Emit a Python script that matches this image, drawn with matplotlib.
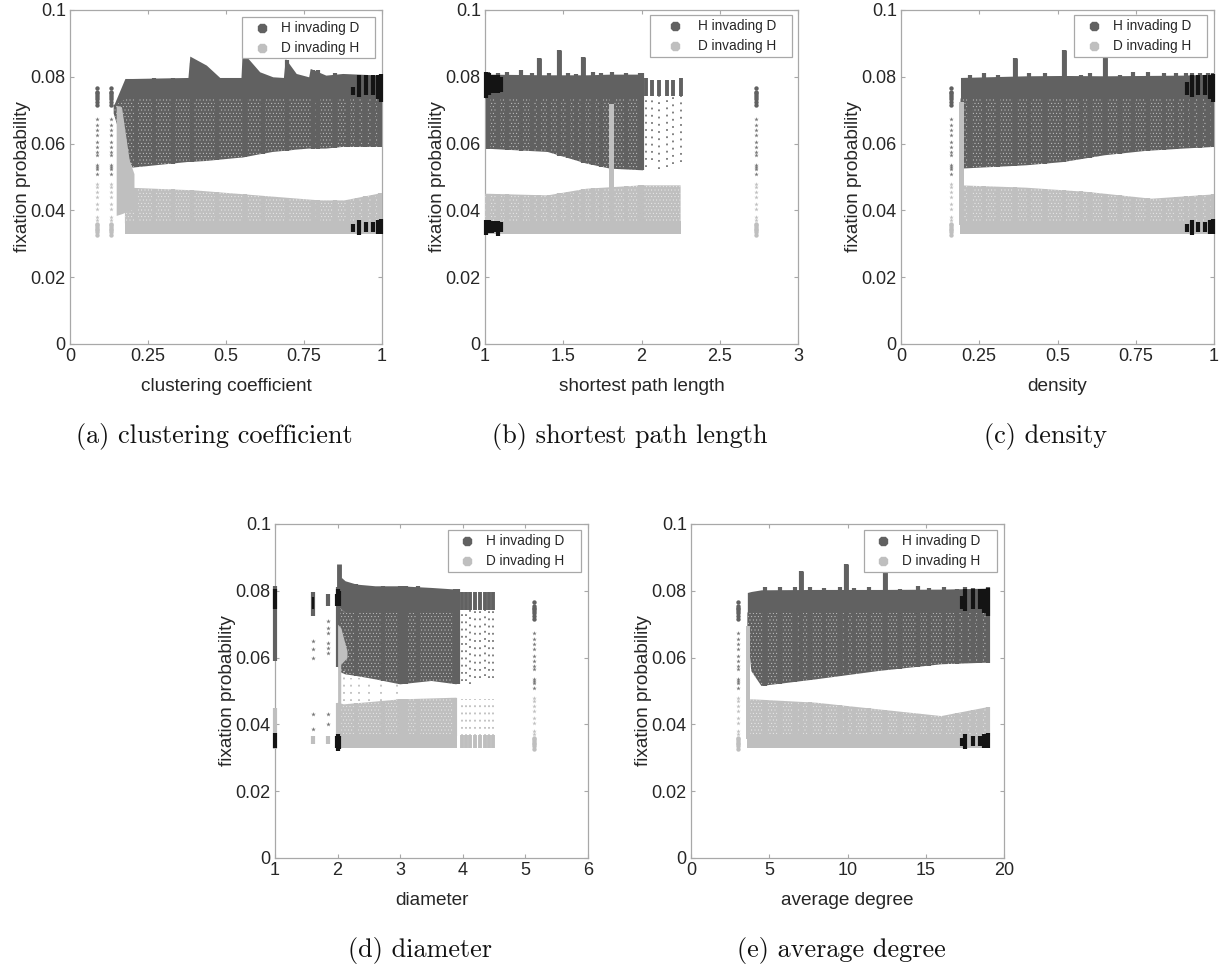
import matplotlib
matplotlib.use('Agg')
from matplotlib import pyplot as plt
from matplotlib.patches import Rectangle
import numpy as np

plt.rcParams['font.family'] = ['Liberation Sans', 'DejaVu Sans']
plt.rcParams['hatch.linewidth'] = 0.25

H_COL = '#616161'
D_COL = '#bfbfbf'
EDGE = '#a8a8a8'
TXT = '#262626'
BLACK = '#141414'

y_ticks = [0, 0.02, 0.04, 0.06, 0.08, 0.1]
y_tick_labels = ['0', '0.02', '0.04', '0.06', '0.08', '0.1']

# the lone column of points that shows up in every panel
iso_h_dense = [0.0715, 0.0725, 0.0735, 0.074, 0.0745, 0.075, 0.0755, 0.0765]
iso_h_sparse = [0.0675, 0.0655, 0.064, 0.0625, 0.0605, 0.059, 0.0575, 0.0565, 0.0535, 0.053, 0.0525, 0.051]
iso_d_sparse = [0.048, 0.047, 0.0455, 0.044, 0.042, 0.0405, 0.038, 0.037]
iso_d_dense = [0.0325, 0.0335, 0.034, 0.0345, 0.035, 0.0355, 0.036]

# (a) clustering coefficient
a_x = [0.14, 0.176, 0.2, 0.378, 0.384, 0.437, 0.48, 0.548, 0.552, 0.608, 0.65, 0.684, 0.69, 0.725, 0.765, 0.77, 0.82, 0.874, 1.0]
a_h_top = [0.0715, 0.0795, 0.0795, 0.0798, 0.0862, 0.0835, 0.0798, 0.0798, 0.0875, 0.0815, 0.08, 0.0798, 0.0855, 0.081, 0.08, 0.0825, 0.0805, 0.081, 0.0805]
a_h_bot = [0.069, 0.058, 0.0528, 0.0545, 0.0545, 0.0548, 0.0552, 0.0558, 0.0558, 0.0568, 0.0575, 0.0578, 0.0578, 0.0582, 0.0585, 0.0585, 0.0585, 0.059, 0.059]
a_band = [0.0715] + [0.0735] * 18
a_dx = [0.176, 0.19, 0.4, 0.6, 0.8, 0.88, 1.0]
a_d_top = [0.047, 0.0468, 0.046, 0.0445, 0.043, 0.043, 0.0452]
a_strands = [0.21, 0.27, 0.33, 0.39, 0.47, 0.56, 0.62, 0.695, 0.78, 0.795, 0.85, 0.89, 0.92, 0.945, 0.97, 0.995]
a_strand_top = [0.079, 0.0795, 0.0795, 0.084, 0.0795, 0.086, 0.08, 0.085, 0.082, 0.082, 0.081, 0.08, 0.08, 0.08, 0.08, 0.08]
a_iso = [0.087, 0.131]
a_col_x = [0.148, 0.165, 0.19, 0.205]
a_col_top = [0.0715, 0.071, 0.055, 0.051]
a_col_bot = [0.0385, 0.039, 0.04, 0.0405]
a_black = [0.906, 0.927, 0.949, 0.97, 0.988, 0.998]
a_black_h_lo = [0.0745, 0.074, 0.0745, 0.0745, 0.0735, 0.0725]
a_black_h_hi = [0.077, 0.0805, 0.0805, 0.0805, 0.0805, 0.0808]
a_black_d_lo = [0.0335, 0.0325, 0.0335, 0.0335, 0.033, 0.033]
a_black_d_hi = [0.036, 0.037, 0.0365, 0.0365, 0.037, 0.0375]

# (b) shortest path length
b_x = [1.0, 1.4, 1.65, 1.8, 2.01]
b_h_top = [0.0808, 0.0806, 0.0806, 0.0808, 0.0808]
b_h_bot = [0.0585, 0.0575, 0.054, 0.0525, 0.052]
b_band = [0.0735] * 5
b_dx = [1.0, 1.4, 1.65, 2.0, 2.25]
b_d_top = [0.045, 0.0445, 0.0465, 0.0475, 0.0475]
b_strands = [1.02, 1.08, 1.14, 1.23, 1.3, 1.343, 1.41, 1.476, 1.53, 1.58, 1.629, 1.69, 1.74, 1.81, 1.9, 1.99, 2.005]
b_strand_top = [0.0815, 0.081, 0.0815, 0.082, 0.081, 0.0855, 0.081, 0.088, 0.081, 0.0808, 0.086, 0.0815, 0.081, 0.0815, 0.081, 0.081, 0.081]
b_spikes = [1.343, 1.476, 1.629]
b_spike_top = [0.0855, 0.088, 0.086]
b_iso = [2.733]
b_col_x = [1.795, 1.825]
b_col_top = [0.072, 0.072]
b_col_bot = [0.0375, 0.0375]
b_black = [1.008, 1.025, 1.045, 1.065, 1.085, 1.1]
b_black_h_lo = [0.0737, 0.0745, 0.075, 0.075, 0.0752, 0.0755]
b_black_h_hi = [0.0815, 0.081, 0.0805, 0.0805, 0.0805, 0.08]
b_black_d_lo = [0.0325, 0.0332, 0.0332, 0.0335, 0.0322, 0.0335]
b_black_d_hi = [0.0372, 0.037, 0.0368, 0.0368, 0.0368, 0.0365]
b_sparse = [2.03, 2.07, 2.11, 2.16, 2.2, 2.25]
b_sparse_top = [0.0795, 0.079, 0.079, 0.079, 0.079, 0.0795]
b_sparse_bot = [0.053, 0.055, 0.0525, 0.053, 0.054, 0.0545]

# (c) density
c_x = [0.19, 0.4, 0.52, 0.65, 0.78, 0.9, 1.0]
c_h_top = [0.0798, 0.0803, 0.0804, 0.0803, 0.0804, 0.0805, 0.0808]
c_h_bot = [0.0525, 0.0535, 0.0545, 0.0565, 0.0578, 0.0585, 0.059]
c_band = [0.0735] * 7
c_dx = [0.19, 0.4, 0.6, 0.8, 1.0]
c_d_top = [0.0475, 0.0468, 0.0455, 0.0435, 0.0448]
c_strands = [0.22, 0.265, 0.31, 0.365, 0.41, 0.46, 0.52, 0.575, 0.605, 0.652, 0.7, 0.74, 0.79, 0.84, 0.88, 0.91, 0.93, 0.955, 0.98, 0.998]
c_strand_top = [0.0805, 0.081, 0.0805, 0.0855, 0.081, 0.081, 0.088, 0.0805, 0.081, 0.086, 0.0805, 0.0815, 0.0815, 0.081, 0.081, 0.081, 0.081, 0.081, 0.081, 0.081]
c_spikes = [0.365, 0.52, 0.652]
c_spike_top = [0.0855, 0.088, 0.086]
c_iso = [0.16]
c_col_x = [0.185, 0.2]
c_col_top = [0.0725, 0.0725]
c_col_bot = [0.0355, 0.0355]
c_black = [0.915, 0.93, 0.95, 0.97, 0.988, 0.998]
c_black_h_lo = [0.0745, 0.074, 0.0745, 0.0745, 0.0735, 0.0725]
c_black_h_hi = [0.0785, 0.0805, 0.0805, 0.0805, 0.0805, 0.0808]
c_black_d_lo = [0.0335, 0.0325, 0.0335, 0.0335, 0.033, 0.033]
c_black_d_hi = [0.036, 0.037, 0.0365, 0.0365, 0.037, 0.0375]

# (d) diameter
d_x = [2.0, 2.06, 2.12, 2.3, 2.6, 3.0, 3.5, 3.9]
d_h_top = [0.0805, 0.084, 0.083, 0.082, 0.0815, 0.0815, 0.081, 0.0805]
d_h_bot = [0.0575, 0.0555, 0.055, 0.0545, 0.0535, 0.052, 0.053, 0.052]
d_band = [0.0755, 0.0745, 0.0735, 0.0735, 0.0735, 0.0735, 0.0735, 0.0735]
d_dx = [2.0, 2.1, 3.0, 3.9]
d_d_top = [0.0465, 0.046, 0.0475, 0.048]
d_strands = [2.01, 2.3, 2.72, 3.0, 3.05, 3.1, 3.29, 3.88, 3.92]
d_strand_top = [0.081, 0.082, 0.0815, 0.0815, 0.0815, 0.0815, 0.0815, 0.0805, 0.0805]
d_spikes = [2.015]
d_spike_top = [0.088]
d_iso = [5.14]
d_col_x = [2.0, 2.05, 2.05, 2.15]
d_col_top = [0.07, 0.069, 0.069, 0.062]
d_col_bot = [0.034, 0.034, 0.058, 0.06]
d_black = [1.985, 2.0, 2.015]
d_black_h_lo = [0.0755, 0.0755, 0.0755]
d_black_h_hi = [0.079, 0.0805, 0.08]
d_black_d_lo = [0.033, 0.032, 0.0325]
d_black_d_hi = [0.0365, 0.037, 0.0365]
d_sparse = [3.98, 4.05, 4.12, 4.2, 4.28, 4.36, 4.42, 4.48]
d_sparse_top = [0.0795, 0.0795, 0.0795, 0.0795, 0.0795, 0.0795, 0.0795, 0.0795]
d_sparse_bot = [0.053, 0.053, 0.052, 0.054, 0.054, 0.0545, 0.054, 0.054]
d_gap_x = [2.1, 2.22, 2.34, 2.5, 2.7, 2.95]
d_gap_top = [0.056, 0.054, 0.054, 0.052, 0.053, 0.052]
d_left_x = [1.0, 1.6, 1.85]
d_left_h_top = [0.0815, 0.0795, 0.079]
d_left_h_bot = [0.059, 0.0725, 0.0755]
d_left_d_top = [0.045, 0.0365, 0.0365]
d_left_d_bot = [0.0325, 0.034, 0.034]
d_left_sparse_x = [1.6, 1.6, 1.6, 1.6, 1.6, 1.85, 1.85, 1.85, 1.85, 1.85, 1.85, 1.85, 1.85]
d_left_sparse_y = [0.065, 0.0625, 0.06, 0.0432, 0.0385, 0.071, 0.069, 0.0675, 0.0645, 0.063, 0.0615, 0.043, 0.04]

# (e) average degree
e_x = [3.6, 3.85, 4.5, 8, 12, 16, 19]
e_h_top = [0.0795, 0.0798, 0.0803, 0.0804, 0.0804, 0.0805, 0.0808]
e_h_bot = [0.069, 0.056, 0.0515, 0.0535, 0.056, 0.058, 0.0585]
e_band = [0.0735] * 7
e_dx = [3.6, 4.0, 8, 12, 16, 19]
e_d_top = [0.0475, 0.0475, 0.0465, 0.0445, 0.0425, 0.0452]
e_strands = [4.73, 5.68, 6.64, 7.0, 7.6, 8.49, 9.51, 9.9, 10.4, 11.4, 12.4, 13.34, 14.5, 15.2, 16.15, 17.0, 17.5, 18.0, 18.45, 18.98]
e_strand_top = [0.081, 0.0812, 0.0812, 0.0858, 0.0812, 0.0808, 0.0812, 0.088, 0.0808, 0.081, 0.086, 0.0805, 0.0815, 0.0808, 0.0812, 0.0805, 0.081, 0.0808, 0.0805, 0.0812]
e_spikes = [7.0, 9.9, 12.4]
e_spike_top = [0.0858, 0.088, 0.086]
e_iso = [3.02]
e_col_x = [3.5, 3.75]
e_col_top = [0.0695, 0.0695]
e_col_bot = [0.0355, 0.0355]
e_black = [17.3, 17.5, 18.0, 18.45, 18.75, 18.98]
e_black_h_lo = [0.0745, 0.074, 0.0745, 0.0745, 0.0735, 0.0725]
e_black_h_hi = [0.0785, 0.0805, 0.0805, 0.0805, 0.0805, 0.0808]
e_black_d_lo = [0.0335, 0.0325, 0.0335, 0.0335, 0.033, 0.033]
e_black_d_hi = [0.036, 0.037, 0.0365, 0.0365, 0.037, 0.0375]


def to_ax(fig, l, t, r, b):
    W, H = fig.get_size_inches() * fig.dpi
    return fig.add_axes([l / W, 1 - b / H, (r - l) / W, (b - t) / H])


def draw_panel(ax, x, h_top, h_bot, band, dx, d_top, strands, strand_top, iso, col_x, col_top, col_bot, black, bh_lo, bh_hi, bd_lo, bd_hi):
    # speckled part = solid with a fine dot screen on it
    ax.fill_between(x, h_bot, band, facecolor=H_COL, edgecolor='#d8d8d8', hatch='.....', lw=0, zorder=2)
    ax.fill_between(x, band, h_top, color=H_COL, lw=0, zorder=3)
    ax.vlines(strands, np.interp(strands, x, h_bot), strand_top, color=H_COL, lw=3.0, zorder=3)
    ax.fill_between(dx, 0.0362, d_top, facecolor=D_COL, edgecolor='#f2f2f2', hatch='.....', lw=0, zorder=4)
    ax.fill_between([dx[0], dx[-1]], 0.033, 0.0368, color=D_COL, lw=0, zorder=4)
    ds = [s for s in strands if dx[0] <= s <= dx[-1]]
    ax.vlines(ds, 0.0365, np.interp(ds, dx, d_top), color=D_COL, lw=3.0, zorder=4)
    ax.fill_between(col_x, col_bot, col_top, color=D_COL, lw=0, zorder=5)
    for v in iso:
        ax.scatter([v] * len(iso_h_dense), iso_h_dense, marker='o', s=10, color=H_COL, lw=0, zorder=6)
        ax.scatter([v] * len(iso_h_sparse), iso_h_sparse, marker='*', s=11, color='#777777', lw=0, zorder=6)
        ax.scatter([v] * len(iso_d_sparse), iso_d_sparse, marker='*', s=11, color=D_COL, lw=0, zorder=6)
        ax.scatter([v] * len(iso_d_dense), iso_d_dense, marker='o', s=10, color=D_COL, lw=0, zorder=6)
    ax.vlines(black, bh_lo, bh_hi, color=BLACK, lw=3.0, zorder=7, clip_on=False)
    ax.vlines(black, bd_lo, bd_hi, color=BLACK, lw=3.0, zorder=7, clip_on=False)


def finish(ax, xlim, xticks, xlabels, xlabel, leg, box):
    l, t, r, b = box
    ax.set_xlim(xlim)
    ax.set_ylim(0, 0.1)
    ax.set_xticks(xticks)
    ax.set_xticklabels(xlabels)
    ax.set_yticks(y_ticks)
    ax.set_yticklabels(y_tick_labels)
    ax.tick_params(direction='in', length=3, width=0.8, top=True, right=True, color=EDGE, labelcolor=TXT, labelsize=13, pad=3)
    for sp in ax.spines.values():
        sp.set_color(EDGE)
        sp.set_linewidth(0.9)
    ax.set_xlabel(xlabel, fontsize=13.7, color=TXT, labelpad=9.5)
    ax.set_ylabel('fixation probability', fontsize=13.7, color=TXT, labelpad=0)
    # legend box laid out by hand in pixels, the stock one can't get these paddings
    lx0, ly0, lx1, ly1, mk, tx = leg
    fx = lambda p: (p - l) / (r - l)
    fy = lambda p: (b - p) / (b - t)
    ax.add_patch(Rectangle((fx(lx0), fy(ly1)), fx(lx1) - fx(lx0), fy(ly0) - fy(ly1), transform=ax.transAxes,
                           facecolor='white', edgecolor=EDGE, lw=0.9, zorder=20))
    rows = [(ly0 + 11, H_COL, 'H invading D'), (ly0 + 31, D_COL, 'D invading H')]
    for py, col, lab in rows:
        ax.plot([fx(mk)], [fy(py)], marker='8', ms=7, color=col, ls='', transform=ax.transAxes, zorder=21)
        ax.text(fx(tx), fy(py), lab, transform=ax.transAxes, fontsize=9.8, color=TXT, va='center', ha='left', zorder=21)


fig = plt.figure(figsize=(12.2, 9.68), dpi=100)

box_a = (70, 10, 382, 344)
box_b = (485, 10, 798, 344)
box_c = (901, 10, 1214, 344)
box_d = (275, 524, 588, 858)
box_e = (691, 524, 1004, 858)

ax = to_ax(fig, *box_a)
draw_panel(ax, a_x, a_h_top, a_h_bot, a_band, a_dx, a_d_top, a_strands, a_strand_top, a_iso, a_col_x, a_col_top, a_col_bot, a_black, a_black_h_lo, a_black_h_hi, a_black_d_lo, a_black_d_hi)
finish(ax, (0, 1), [0, 0.25, 0.5, 0.75, 1], ['0', '0.25', '0.5', '0.75', '1'], 'clustering coefficient', (242, 17, 375, 58, 262, 281), box_a)

ax = to_ax(fig, *box_b)
draw_panel(ax, b_x, b_h_top, b_h_bot, b_band, b_dx, b_d_top, b_strands, b_strand_top, b_iso, b_col_x, b_col_top, b_col_bot, b_black, b_black_h_lo, b_black_h_hi, b_black_d_lo, b_black_d_hi)
ax.vlines(b_spikes, 0.08, b_spike_top, color=H_COL, lw=3.5, zorder=3)
ax.vlines(b_sparse, 0.0742, b_sparse_top, color=H_COL, lw=2.8, zorder=3)
ax.vlines(b_sparse, b_sparse_bot, 0.0742, color='#777777', lw=1.3, ls=(0, (1, 3)), zorder=3)
finish(ax, (1, 3), [1, 1.5, 2, 2.5, 3], ['1', '1.5', '2', '2.5', '3'], 'shortest path length', (650, 15, 792, 57, 675, 698), box_b)

ax = to_ax(fig, *box_c)
draw_panel(ax, c_x, c_h_top, c_h_bot, c_band, c_dx, c_d_top, c_strands, c_strand_top, c_iso, c_col_x, c_col_top, c_col_bot, c_black, c_black_h_lo, c_black_h_hi, c_black_d_lo, c_black_d_hi)
ax.vlines(c_spikes, 0.08, c_spike_top, color=H_COL, lw=3.5, zorder=3)
finish(ax, (0, 1), [0, 0.25, 0.5, 0.75, 1], ['0', '0.25', '0.5', '0.75', '1'], 'density', (1074, 15, 1207, 57, 1094, 1113), box_c)

ax = to_ax(fig, *box_d)
draw_panel(ax, d_x, d_h_top, d_h_bot, d_band, d_dx, d_d_top, d_strands, d_strand_top, d_iso, d_col_x, d_col_top, d_col_bot, d_black, d_black_h_lo, d_black_h_hi, d_black_d_lo, d_black_d_hi)
ax.vlines(d_spikes, 0.08, d_spike_top, color=H_COL, lw=3.5, zorder=3)
ax.vlines(d_sparse, 0.0742, d_sparse_top, color=H_COL, lw=2.8, zorder=3)
ax.vlines(d_sparse, d_sparse_bot, 0.0742, color='#777777', lw=1.3, ls=(0, (1, 3)), zorder=3)
ax.vlines(d_sparse, 0.0365, 0.0475, color=D_COL, lw=1.3, ls=(0, (1, 3)), zorder=3)
ax.vlines(d_sparse, 0.033, 0.0368, color=D_COL, lw=2.8, zorder=3)
ax.vlines(d_gap_x, 0.047, d_gap_top, color=D_COL, lw=1.3, ls=(0, (1, 3)), zorder=3)
ax.vlines(d_left_x, d_left_h_bot, d_left_h_top, color=H_COL, lw=3.0, zorder=3, clip_on=False)
ax.vlines(d_left_x, d_left_d_bot, d_left_d_top, color=D_COL, lw=3.0, zorder=3, clip_on=False)
ax.vlines([1.0], 0.0745, 0.0805, color=BLACK, lw=3.0, zorder=7, clip_on=False)
ax.vlines([1.0], 0.033, 0.0375, color=BLACK, lw=3.0, zorder=7, clip_on=False)
ax.vlines([1.6], 0.0745, 0.078, color=BLACK, lw=1.6, zorder=7)
ax.scatter(d_left_sparse_x, d_left_sparse_y, marker='*', s=12, color='#777777', lw=0, zorder=6)
finish(ax, (1, 6), [1, 2, 3, 4, 5, 6], ['1', '2', '3', '4', '5', '6'], 'diameter', (448, 530, 581, 572, 467, 486), box_d)

ax = to_ax(fig, *box_e)
draw_panel(ax, e_x, e_h_top, e_h_bot, e_band, e_dx, e_d_top, e_strands, e_strand_top, e_iso, e_col_x, e_col_top, e_col_bot, e_black, e_black_h_lo, e_black_h_hi, e_black_d_lo, e_black_d_hi)
ax.vlines(e_spikes, 0.08, e_spike_top, color=H_COL, lw=3.5, zorder=3)
finish(ax, (0, 20), [0, 5, 10, 15, 20], ['0', '5', '10', '15', '20'], 'average degree', (864, 530, 997, 572, 883, 902), box_e)

captions = ['(a) clustering coefficient', '(b) shortest path length', '(c) density', '(d) diameter', '(e) average degree']
cap_x = [214, 630, 1045, 420, 841]
cap_y = [437, 437, 437, 950, 950]
for c, cx, cy in zip(captions, cap_x, cap_y):
    fig.text(cx / 1220, 1 - cy / 968, c, ha='center', va='center', family='cmr10', fontsize=18.9, color='#111111')

fig.savefig('out.png', dpi=100)
